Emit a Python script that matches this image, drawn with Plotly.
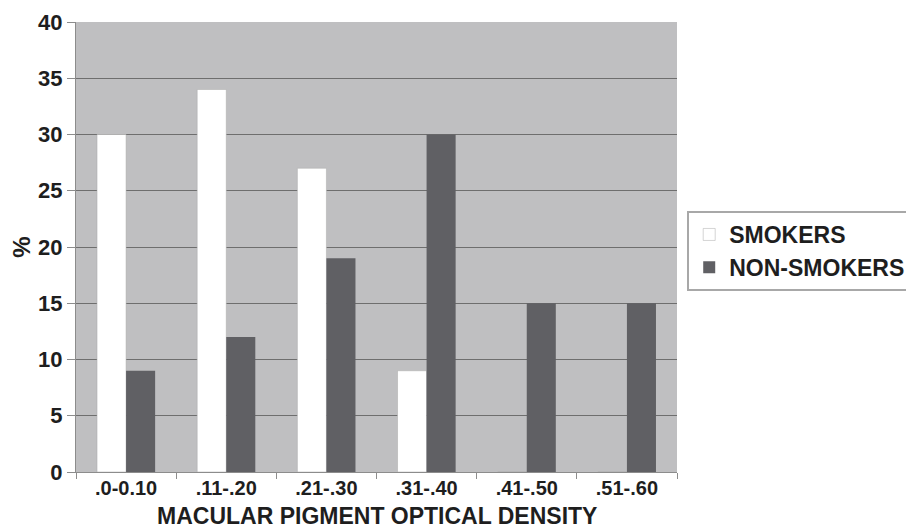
import plotly.graph_objects as go

categories = [".0-0.10", ".11-.20", ".21-.30", ".31-.40", ".41-.50", ".51-.60"]
smokers = [30, 34, 27, 9, 0, 0]
non_smokers = [9, 12, 19, 30, 15, 15]
y_ticks = [0, 5, 10, 15, 20, 25, 30, 35, 40]
x_title = "MACULAR PIGMENT OPTICAL DENSITY"

FONT = "Liberation Sans, Arial, sans-serif"
TXT = "#1e1e1e"

fig = go.Figure()
fig.add_trace(go.Bar(
    x=categories, y=smokers, name="SMOKERS",
    marker=dict(color="#ffffff", line=dict(color="#a8a8a8", width=0.5)),
    legendgroup="a",
))
fig.add_trace(go.Bar(
    x=categories, y=non_smokers, name="NON-SMOKERS",
    marker=dict(color="#606064", line=dict(color="#606064", width=0)),
    legendgroup="b",
))

fig.add_annotation(
    text=x_title, xref="paper", yref="paper",
    x=0.5, y=-0.0967, xanchor="center", yanchor="middle",
    showarrow=False, borderpad=0,
    font=dict(family=FONT, size=23, color=TXT, weight="bold"),
)

fig.update_layout(
    width=914, height=527,
    margin=dict(l=68, r=245, t=14, b=63, autoexpand=False),
    paper_bgcolor="white",
    plot_bgcolor="#bfbfc1",
    barmode="group",
    bargap=0.42,
    bargroupgap=0,
    font=dict(family=FONT, color=TXT, size=21, weight="bold"),
    showlegend=True,
    legend=dict(
        x=1.017, y=0.580, xanchor="left", yanchor="top",
        bgcolor="white", bordercolor="#a8a8a8", borderwidth=2,
        font=dict(family=FONT, size=23, color=TXT, weight="bold"),
        tracegroupgap=2,
        traceorder="normal",
    ),
    xaxis=dict(
        type="category",
        automargin=False,
        showgrid=False,
        showline=True, linecolor="#8c8c8c", linewidth=1,
        ticks="outside", ticklen=6, tickcolor="#8c8c8c",
        tickson="boundaries",
        ticklabelstandoff=-2,
        tickfont=dict(family=FONT, size=20, color=TXT, weight="bold"),
    ),
    yaxis=dict(
        range=[0, 40],
        automargin=False,
        tickvals=y_ticks,
        showgrid=True, gridcolor="#6e6e6e", gridwidth=1,
        zeroline=False,
        showline=True, linecolor="#8c8c8c", linewidth=1,
        ticks="outside", ticklen=8, tickcolor="#8c8c8c",
        tickfont=dict(family=FONT, size=22, color=TXT, weight="bold"),
        title=dict(text="%", font=dict(family=FONT, size=24, color=TXT, weight="bold"),
                   standoff=14),
    ),
)

fig.write_html("out.html")
